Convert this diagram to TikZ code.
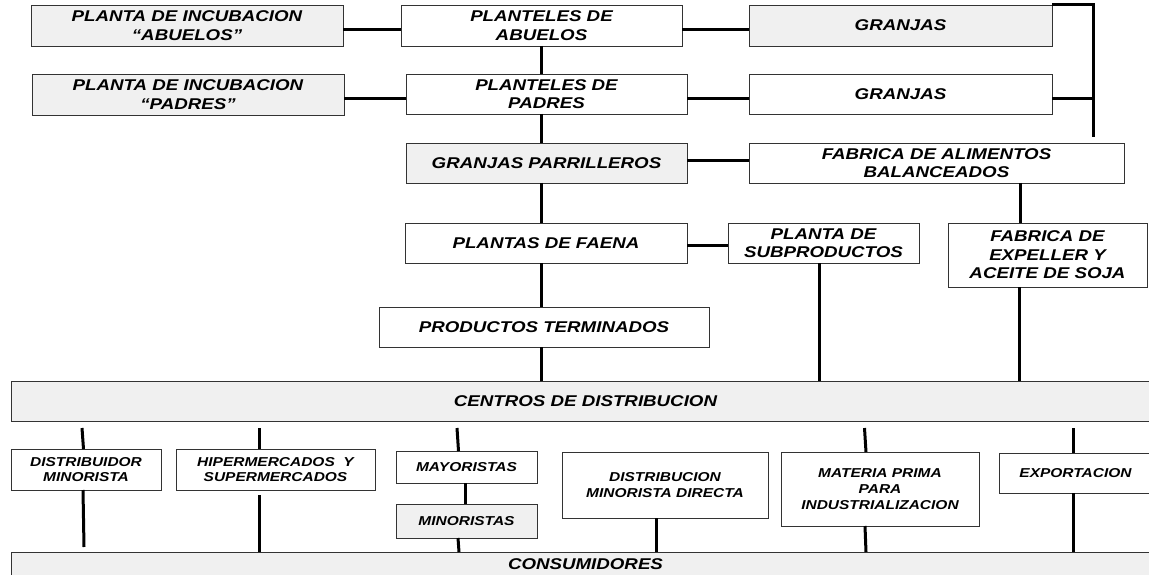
\documentclass[tikz,border=0pt]{standalone}
\usepackage{fontspec}
\newfontfamily\diagfont[FakeStretch=1.2]{Liberation Sans}
\tikzset{
  box/.style={draw=black!80, line width=0.8pt, inner sep=0pt, outer sep=0pt, align=center,
    font=\diagfont\bfseries\itshape\fontsize{15.6}{18.5}\selectfont},
  gbox/.style={box, fill=black!6},
  wbox/.style={box, fill=white},
  small/.style={font=\diagfont\bfseries\itshape\fontsize{12.9}{15.8}\selectfont},
  conn/.style={line width=3pt, black}
}
\newcommand\bx[7]{%
  \node[#6, minimum width={(#4-#2)*1pt}, minimum height={(#5-#3)*1pt}] (#1) at ({(#2+#4)/2},{(#3+#5)/2}) {#7};}
\begin{document}
\begin{tikzpicture}[x=1pt,y=-1pt]
\useasboundingbox (0,0) rectangle (1149,575);
\fill[white] (0,0) rectangle (1149,575);
% boxes
\bx{inA}{31}{5}{343}{46}{gbox}{PLANTA DE INCUBACION\\“ABUELOS”}
\bx{inP}{32}{74}{344}{115}{gbox}{PLANTA DE INCUBACION\\“PADRES”}
\bx{plA}{401}{5}{682}{46}{wbox}{PLANTELES DE\\ABUELOS}
\bx{plP}{406}{74}{687}{114}{wbox}{PLANTELES DE\\PADRES}
\bx{par}{406}{143}{687}{183}{gbox}{GRANJAS PARRILLEROS}
\bx{grA}{749}{5}{1052}{46}{gbox}{GRANJAS}
\bx{grP}{749}{74}{1052}{114}{wbox}{GRANJAS}
\bx{fab}{749}{143}{1124}{183}{wbox}{FABRICA DE ALIMENTOS\\BALANCEADOS}
\bx{fae}{405}{223}{687}{263}{wbox}{PLANTAS DE FAENA}
\bx{sub}{728}{223}{919}{263}{wbox}{PLANTA DE\\SUBPRODUCTOS}
\bx{exp}{948}{223}{1147}{287}{wbox}{FABRICA DE\\EXPELLER Y\\ACEITE DE SOJA}
\bx{prod}{379}{307}{709}{347}{wbox}{PRODUCTOS TERMINADOS}
\bx{cd}{11}{381}{1160}{421}{gbox}{CENTROS DE DISTRIBUCION}
\bx{dm}{11}{449}{161}{490}{wbox,small}{DISTRIBUIDOR\\MINORISTA}
\bx{hip}{176}{449}{375}{490}{wbox,small}{HIPERMERCADOS \ Y\\SUPERMERCADOS}
\bx{may}{396}{451}{537}{483}{wbox,small}{MAYORISTAS}
\bx{min}{396}{504}{537}{538}{gbox,small}{MINORISTAS}
\bx{dmd}{562}{452}{768}{518}{wbox,small}{DISTRIBUCION\\MINORISTA DIRECTA}
\bx{mat}{781}{452}{979}{526}{wbox,small}{MATERIA PRIMA\\PARA\\INDUSTRIALIZACION}
\bx{expo}{999}{453}{1152}{493}{wbox,small}{EXPORTACION}
\bx{cons}{11}{552}{1160}{576}{gbox}{CONSUMIDORES}
% connectors top
\draw[conn] (inA.east |- 0,30) -- (plA.west |- 0,30);
\draw[conn] (inP.east |- 0,99) -- (plP.west |- 0,99);
\draw[conn] (plA.east |- 0,30) -- (grA.west |- 0,30);
\draw[conn] (plP.east |- 0,99) -- (grP.west |- 0,99);
\draw[conn] (plA.south -| 541,0) -- (plP.north -| 541,0);
\draw[conn] (plP.south -| 541,0) -- (par.north -| 541,0);
\draw[conn] (par.east |- 0,161) -- (fab.west |- 0,161);
\coordinate (brk) at (1093,137);
\draw[conn] (grA.north east) -| (brk);
\draw[conn] (grP.east |- 0,99) -- (brk |- 0,99);
\draw[conn] (fab.south -| 1020,0) -- (exp.north -| 1020,0);
\draw[conn] (par.south -| 541,0) -- (fae.north -| 541,0);
\draw[conn] (fae.east |- 0,245) -- (sub.west |- 0,245);
\draw[conn] (fae.south -| 541,0) -- (prod.north -| 541,0);
\draw[conn] (prod.south -| 541,0) -- (cd.north -| 541,0);
\draw[conn] (sub.south -| 819,0) -- (cd.north -| 819,0);
\draw[conn] (exp.south -| 1019,0) -- (cd.north -| 1019,0);
% connectors bottom
\draw[conn] (cd.south -| 82,0) ++(0,7) -- (dm.north -| 83.5,0);
\draw[conn] (dm.south -| 83,0) -- ([yshift=5pt]cons.north -| 84,0);
\draw[conn] (cd.south -| 259,0) ++(0,7) -- (hip.north -| 259,0);
\draw[conn] (hip.south -| 259,0) ++(0,5) -- (cons.north -| 259,0);
\draw[conn] (cd.south -| 457,0) ++(0,7) -- (may.north -| 458.5,0);
\draw[conn] (may.south -| 465,0) -- (min.north -| 465,0);
\draw[conn] (min.south -| 458,0) -- (cons.north -| 459,0);
\draw[conn] (dmd.south -| 656,0) -- (cons.north -| 656,0);
\draw[conn] (cd.south -| 864.5,0) ++(0,7) -- (mat.north -| 866,0);
\draw[conn] (mat.south -| 865,0) -- (cons.north -| 866,0);
\draw[conn] (cd.south -| 1073,0) ++(0,7) -- (expo.north -| 1073,0);
\draw[conn] (expo.south -| 1073,0) -- (cons.north -| 1073,0);
\end{tikzpicture}
\end{document}
